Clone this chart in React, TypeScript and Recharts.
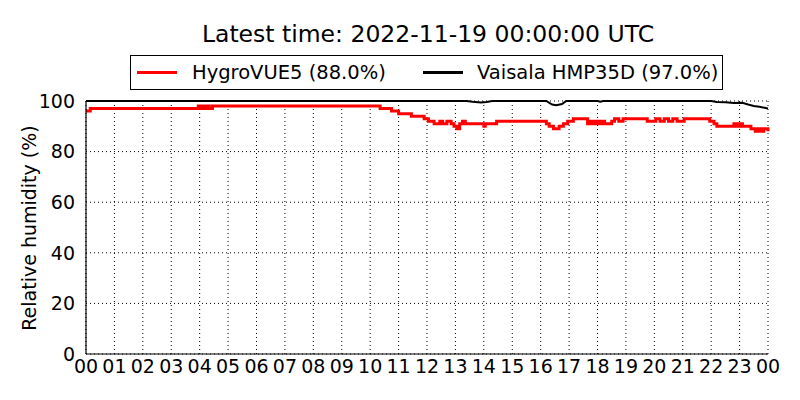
import {
  CartesianGrid,
  Line,
  LineChart,
  XAxis,
  YAxis
} from "recharts";

// hours since 00 UTC, relative humidity %
const hygroHours = [
  0, 0.15, 3.95, 4.02, 4.1, 4.18, 4.26, 4.34, 4.45, 4.6, 10.35, 10.75, 11.0, 11.45,
  11.9, 12.05, 12.25, 12.45, 12.55, 12.7, 12.85, 12.95, 13.05, 13.15, 13.25,
  13.35, 14.0, 14.05, 14.45, 16.2, 16.3, 16.45, 16.65, 16.8, 16.95, 17.15, 17.65,
  17.75, 17.85, 17.95, 18.05, 18.15, 18.25, 18.5, 18.6, 18.75, 18.9, 19.75,
  20.05, 20.2, 20.35, 20.5, 20.65, 20.8, 21.05, 21.95, 22.1, 22.2, 22.3, 22.8,
  22.9, 23.0, 23.1, 23.2, 23.4, 23.55, 23.65, 23.75, 23.85, 24
];
const hygroValues = [
  96, 97, 98, 97, 98, 97, 98, 97, 98, 98, 97, 96, 95, 94,
  93, 92, 91, 92, 91, 92, 91, 90, 89, 91, 92,
  91, 90, 91, 92, 91, 90, 89, 90, 91, 92, 93, 91,
  92, 91, 92, 91, 92, 91, 92, 93, 92, 93, 92,
  93, 92, 93, 92, 93, 92, 93, 92, 91, 90, 90, 91,
  90, 91, 90, 90, 89, 88, 89, 88, 89, 88
];

const vaisalaHours = [
  0, 13.4, 13.6, 13.9, 14.1, 14.3, 16.2, 16.4, 16.55, 16.75, 16.9, 18.0, 18.1,
  18.2, 22.0, 22.2, 22.5, 22.8, 23.1, 23.3, 23.5, 23.7, 24
];
const vaisalaValues = [
  100, 100, 99.7, 99.4, 99.6, 100, 100, 98.6, 98.3, 98.8, 100, 100, 99.7,
  100, 100, 99.6, 99.5, 99.2, 99.3, 98.6, 98.0, 97.7, 97.0
];

const hourTicks = Array.from({ length: 25 }, (_, i) => i);
const humidityTicks = [0, 20, 40, 60, 80, 100];

const hygroData = hygroHours.map((h, i) => ({ h, rh: hygroValues[i] }));
const vaisalaData = vaisalaHours.map((h, i) => ({ h, rh: vaisalaValues[i] }));

const FONT = "'DejaVu Sans', sans-serif";
const tickStyle = { fill: "#000", fontSize: 19, fontFamily: FONT };
const frame = { stroke: "#000", strokeWidth: 1.2 };
const inTick = { stroke: "#000", strokeWidth: 1 };

function fmtHour(h: number) {
  return String(h % 24).padStart(2, "0");
}

const NoLabel = () => <g />;

export default function App() {
  return (
    <div
      style={{
        position: "absolute",
        left: 0,
        top: 0,
        width: 800,
        height: 400,
        background: "#fff",
        fontFamily: FONT
      }}
    >
      <div
        style={{
          position: "absolute",
          left: 0,
          width: 856,
          top: 19,
          textAlign: "center",
          fontSize: 23.5,
          lineHeight: "30px"
        }}
      >
        Latest time: 2022-11-19 00:00:00 UTC
      </div>
      <div
        style={{
          position: "absolute",
          left: 130,
          top: 55,
          width: 591,
          height: 33,
          border: "1px solid #000",
          fontSize: 19.5,
          lineHeight: "33px"
        }}
      >
        <span style={{ position: "absolute", left: 6, top: 15, width: 40, height: 3, background: "#ff0000" }} />
        <span style={{ position: "absolute", left: 61, top: 0 }}>HygroVUE5 (88.0%)</span>
        <span style={{ position: "absolute", left: 292, top: 15, width: 40, height: 3, background: "#000" }} />
        <span style={{ position: "absolute", left: 346, top: 0 }}>Vaisala HMP35D (97.0%)</span>
      </div>
      <div style={{ position: "absolute", left: 29, top: 228, width: 0, height: 0 }}>
        <div
          style={{
            position: "absolute",
            left: -150,
            top: -12,
            width: 300,
            lineHeight: "24px",
            textAlign: "center",
            fontSize: 19,
            transform: "rotate(-90deg)",
            whiteSpace: "nowrap"
          }}
        >
          Relative humidity (%)
        </div>
      </div>
      <LineChart
        width={800}
        height={400}
        margin={{ top: 101, right: 32, bottom: 0, left: 0 }}
        style={{ position: "absolute", left: 0, top: 0 }}
      >
        <CartesianGrid
          stroke="#000"
          strokeDasharray="1 3"
          verticalValues={hourTicks}
          horizontalValues={humidityTicks}
        />
        {/* inward tick marks on all four sides */}
        <XAxis
          xAxisId="bottomIn"
          orientation="bottom"
          mirror
          type="number"
          domain={[0, 24]}
          ticks={hourTicks}
          interval={0}
          tick={NoLabel}
          tickSize={4}
          tickLine={inTick}
          height={0}
          axisLine={frame}
        />
        <XAxis
          dataKey="h"
          type="number"
          domain={[0, 24]}
          ticks={hourTicks}
          interval={0}
          tickFormatter={fmtHour}
          tickLine={false}
          tick={tickStyle}
          tickMargin={0}
          height={46}
          axisLine={frame}
        />
        <XAxis
          xAxisId="top"
          orientation="top"
          mirror
          type="number"
          domain={[0, 24]}
          ticks={hourTicks}
          interval={0}
          tick={NoLabel}
          tickSize={4}
          tickLine={inTick}
          height={0}
          axisLine={frame}
        />
        <YAxis
          yAxisId="leftIn"
          orientation="left"
          mirror
          type="number"
          domain={[0, 100]}
          ticks={humidityTicks}
          interval={0}
          tick={NoLabel}
          tickSize={4}
          tickLine={inTick}
          width={0}
          axisLine={frame}
        />
        <YAxis
          type="number"
          domain={[0, 100]}
          ticks={humidityTicks}
          interval={0}
          tickLine={false}
          tick={tickStyle}
          tickMargin={5}
          width={86}
          axisLine={frame}
        />
        <YAxis
          yAxisId="right"
          orientation="right"
          mirror
          type="number"
          domain={[0, 100]}
          ticks={humidityTicks}
          interval={0}
          tick={NoLabel}
          tickSize={4}
          tickLine={inTick}
          width={0}
          axisLine={frame}
        />
        <Line
          data={hygroData}
          dataKey="rh"
          type="stepAfter"
          stroke="#ff0000"
          strokeWidth={3}
          dot={false}
          isAnimationActive={false}
        />
        <Line
          data={vaisalaData}
          dataKey="rh"
          type="linear"
          stroke="#000"
          strokeWidth={2}
          dot={false}
          isAnimationActive={false}
        />
      </LineChart>
    </div>
  );
}
